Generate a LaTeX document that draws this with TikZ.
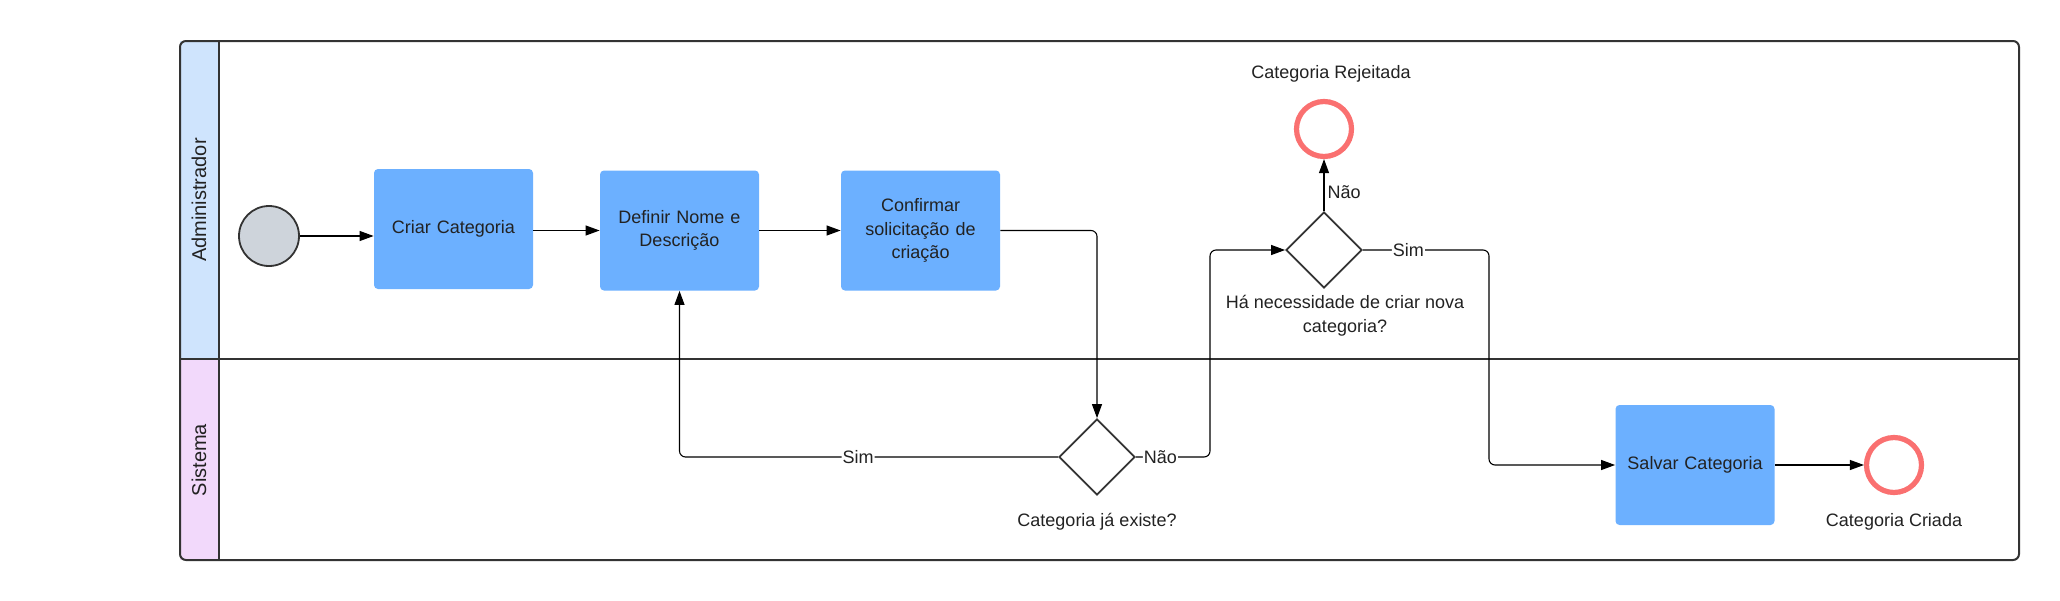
\documentclass[tikz,border=0pt]{standalone}
\usepackage{fontspec}
\setmainfont{Liberation Sans}
\usetikzlibrary{arrows.meta,shapes.geometric,calc}
\definecolor{taskblue}{RGB}{108,176,255}
\definecolor{lanea}{RGB}{207,228,253}
\definecolor{laneb}{RGB}{242,217,251}
\definecolor{endred}{RGB}{250,112,112}
\definecolor{startgrey}{RGB}{206,212,219}
\definecolor{frame}{RGB}{51,51,51}
\definecolor{txt}{RGB}{34,34,34}
\begin{document}
\begin{tikzpicture}[x=0.5pt,y=-0.5pt,
  font=\fontsize{9}{11.8}\selectfont,
  task/.style={fill=taskblue,rounded corners=2pt,minimum width=79.5pt,minimum height=60pt,align=center,text width=70pt,inner sep=0pt,text=txt},
  gate/.style={diamond,draw=frame,line width=0.9pt,fill=white,minimum width=38pt,minimum height=38pt,inner sep=0pt},
  endev/.style={circle,draw=endred,line width=2.6pt,fill=white,minimum size=27.5pt,inner sep=0pt},
  startev/.style={circle,draw=frame,line width=0.9pt,fill=startgrey,minimum size=30pt,inner sep=0pt},
  flow/.style={draw=black,line width=0.55pt,rounded corners=3pt,-{Triangle[length=7pt,width=5pt]}},
  lbl/.style={fill=white,inner sep=0.5pt,text=txt},
  plain/.style={text=txt,align=center,inner sep=0pt},
  lanetitle/.style={rotate=90,font=\fontsize{10}{12}\selectfont,text=txt}]
\useasboundingbox[fill=white] (0,0) rectangle (2060,600);
% pool and lanes
\fill[lanea] (180,41) rectangle (219,359);
\fill[laneb] (180,359) rectangle (219,560);
\draw[frame,line width=1pt,rounded corners=3pt] (180,41) rectangle (2019,560);
\draw[frame,line width=1pt] (180,359) -- (2019,359);
\draw[frame,line width=1pt] (219,41) -- (219,560);
\node[lanetitle] (laneA) at (199,200) {Administrador};
\node[lanetitle] (laneB) at (199,460) {Sistema};
% nodes
\node[startev] (start) at (269,236) {};
\node[task] (criar) at (453.5,229) {Criar Categoria};
\node[task] (definir) at (679.5,230.5) {Definir Nome e\\Descrição};
\node[task] (confirmar) at (920.5,230.5) {Confirmar\\solicitação de\\criação};
\node[gate] (g1) at (1097,457) {};
\node[gate] (g2) at (1324,250) {};
\node[endev] (rej) at (1324,129) {};
\node[task] (salvar) at (1695,465) {Salvar Categoria};
\node[endev] (fim) at (1894,465) {};
% texts
\node[plain] (t1) at (1331,74) {Categoria Rejeitada};
\node[plain] (t2) at (1345,316) {Há necessidade de criar nova\\categoria?};
\node[plain] (t3) at (1097,522) {Categoria já existe?};
\node[plain] (t4) at (1894,522) {Categoria Criada};
\coordinate (c1) at (1210,0);
\coordinate (c2) at (1489,0);
% flows
\draw[flow] (start.east) -- (start.east -| criar.west);
\draw[flow] (criar.east |- definir) -- (definir.west);
\draw[flow] (definir.east) -- (confirmar.west);
\draw[flow] (confirmar.east) -| (g1.north);
\draw[flow] (g1.west) -| node[lbl,pos=0.264] {Sim} (definir.south);
\draw[flow] (g1.east) -- node[lbl,pos=0.33] {Não} (g1.east -| c1) -- (c1 |- g2) -- (g2.west);
\draw[flow] (g2.north) -- node[lbl,right,pos=0.36,xshift=1pt] {Não} (rej.south);
\draw[flow] (g2.east) -- node[lbl,pos=0.36] {Sim} (g2.east -| c2) -- (c2 |- salvar) -- (salvar.west);
\draw[flow] (salvar.east) -- (fim.west);
\end{tikzpicture}
\end{document}
